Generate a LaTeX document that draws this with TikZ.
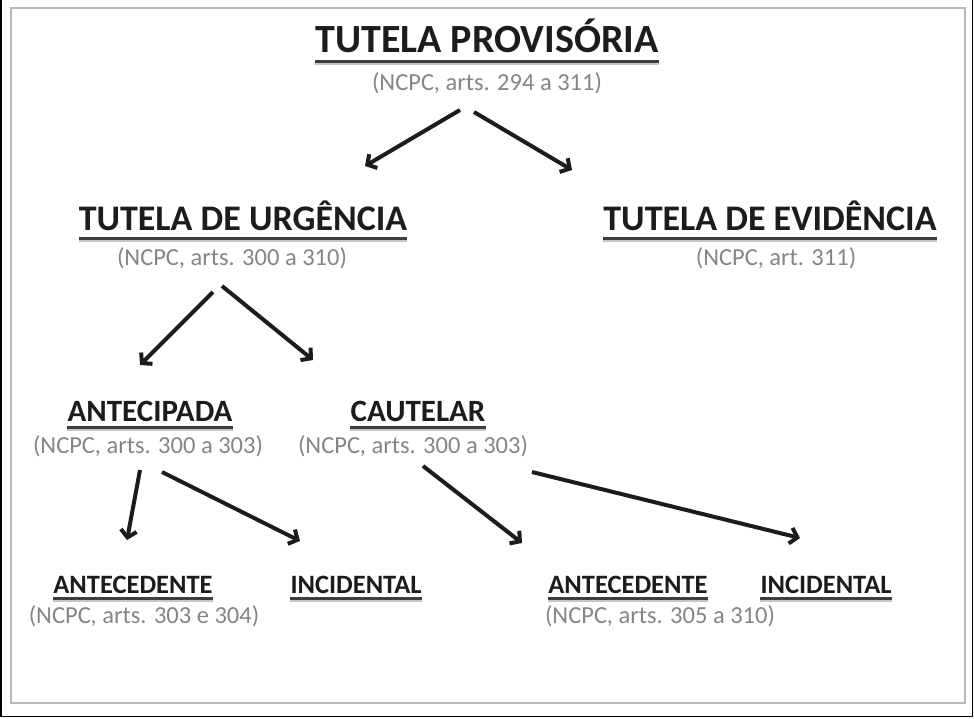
\documentclass[tikz,border=0pt]{standalone}
\usepackage{fontspec}
\setmainfont{Carlito}
\usetikzlibrary{shapes,arrows,arrows.meta,positioning}

\definecolor{tinta}{HTML}{1C1C1C}
\definecolor{cinzasub}{HTML}{858585}
\newcommand{\tamanho}[1]{\fontsize{#1}{#1}\selectfont}

\begin{document}
\begin{tikzpicture}[x=1pt,y=-1pt,
  titulo/.style={inner sep=0pt,anchor=base,text=tinta},
  subtitulo/.style={inner sep=0pt,text=cinzasub},
  seta/.style={line width=4pt,draw=tinta,-{Straight Barb[length=7pt,width=16pt]}},
  sublinha/.style={line width=3pt,draw=tinta!85},
  sombra/.style={line width=2pt,draw=gray!45}]

\useasboundingbox (0,0) rectangle (974,718);
% Moldura
\draw[line width=1.5pt] (0.75,0) -- (0.75,716.5) -- (972.5,716.5) -- (972.5,0);
\draw[gray!55,line width=2pt] (11,8) rectangle (965,703);

% Nivel 1
\node[titulo,font=\bfseries\tamanho{40}] (prov) at (487,52) {TUTELA PROVISÓRIA};
\node[subtitulo,font=\tamanho{24.5}] (provsub) at (487,83) {(NCPC, arts. 294 a 311)};

% Nivel 2
\node[titulo,font=\bfseries\tamanho{36}] (urg) at (243,230) {TUTELA DE URGÊNCIA};
\node[subtitulo,font=\tamanho{24.5}] (urgsub) at (232,258) {(NCPC, arts. 300 a 310)};
\node[titulo,font=\bfseries\tamanho{36}] (evid) at (770,230) {TUTELA DE EVIDÊNCIA};
\node[subtitulo,font=\tamanho{24.5}] (evidsub) at (776,258) {(NCPC, art. 311)};

% Nivel 3
\node[titulo,font=\bfseries\tamanho{31}] (antec) at (150,421) {ANTECIPADA};
\node[subtitulo,font=\tamanho{24.5}] (antecsub) at (148,446) {(NCPC, arts. 300 a 303)};
\node[titulo,font=\bfseries\tamanho{31}] (caut) at (418,421) {CAUTELAR};
\node[subtitulo,font=\tamanho{24.5}] (cautsub) at (413,446) {(NCPC, arts. 300 a 303)};

% Nivel 4
\node[titulo,font=\bfseries\tamanho{26.5}] (antecd) at (133,593) {ANTECEDENTE};
\node[subtitulo,font=\tamanho{24.5}] (antecdsub) at (144,616) {(NCPC, arts. 303 e 304)};
\node[titulo,font=\bfseries\tamanho{26.5}] (incid) at (356,593) {INCIDENTAL};
\node[titulo,font=\bfseries\tamanho{26.5}] (cautantecd) at (628,593) {ANTECEDENTE};
\node[subtitulo,font=\tamanho{24.5}] (cautantecdsub) at (660,616) {(NCPC, arts. 305 a 310)};
\node[titulo,font=\bfseries\tamanho{26.5}] (cautincid) at (826,593) {INCIDENTAL};

% Sublinhados
\foreach \n/\d in {prov/9,urg/8,evid/8,antec/6,caut/6,antecd/5,incid/5,cautantecd/5,cautincid/5}{
  \draw[sombra] ([shift={(0,\d+2.5)}]\n.base west) -- ([shift={(0,\d+2.5)}]\n.base east);
  \draw[sublinha] ([shift={(0,\d)}]\n.base west) -- ([shift={(0,\d)}]\n.base east);
}

% Setas
\draw[seta] ([shift={(-27,27)}]provsub.center) -- ([shift={(122,-64)}]urg.base);
\draw[seta] ([shift={(-13,29)}]provsub.center) -- ([shift={(-198,-60)}]evid.base);
\draw[seta] ([shift={(-19,34)}]urgsub.center) -- ([shift={(-10,-56)}]antec.base);
\draw[seta] ([shift={(-10,28)}]urgsub.center) -- ([shift={(-105,-61)}]caut.base);
\draw[seta] ([shift={(-8,24)}]antecsub.center) -- ([shift={(-6,-53)}]antecd.base);
\draw[seta] ([shift={(14,26)}]antecsub.center) -- ([shift={(-56,-52)}]incid.base);
\draw[seta] ([shift={(10,20)}]cautsub.center) -- ([shift={(-106,-50)}]cautantecd.base);
\draw[seta] ([shift={(119,26)}]cautsub.center) -- ([shift={(-26,-55)}]cautincid.base);
\end{tikzpicture}
\end{document}
